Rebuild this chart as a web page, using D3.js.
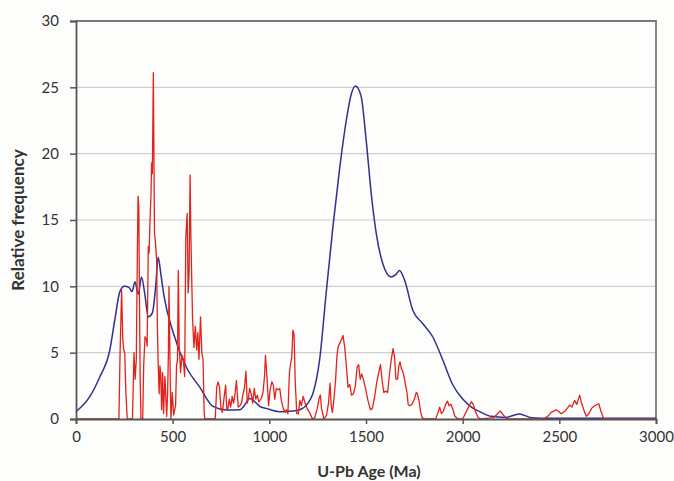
<!DOCTYPE html>
<html>
<head>
<meta charset="utf-8">
<script src="https://cdn.jsdelivr.net/npm/d3@7"></script>
<style>
  body { margin: 0; background: #fdfdfb; }
  text { font-family: Lato, "Open Sans", sans-serif; fill: #333; }
</style>
</head>
<body>
<div id="chart"></div>
<script>
// red curve (individual ages)
const redAge = [0, 222, 228, 236, 242, 247, 252, 258, 265, 292, 300, 306, 312, 317, 321, 325, 328, 332, 336, 345, 350, 357, 364, 368, 374, 378, 383, 388, 391, 395, 400, 403, 406, 410, 417, 421, 425, 430, 434, 438, 443, 448, 453, 460, 469, 474, 478, 481, 486, 491, 498, 505, 515, 520, 525, 529, 534, 541, 548, 555, 562, 568, 575, 580, 585, 590, 594, 598, 603, 610, 617, 624, 630, 636, 644, 651, 657, 663, 666, 720, 728, 735, 742, 750, 757, 765, 774, 780, 786, 793, 800, 808, 815, 822, 830, 839, 848, 856, 864, 871, 879, 886, 892, 898, 906, 914, 922, 930, 938, 945, 952, 960, 967, 975, 980, 988, 996, 1004, 1013, 1020, 1028, 1036, 1046, 1054, 1062, 1072, 1082, 1089, 1096, 1104, 1110, 1116, 1122, 1128, 1134, 1142, 1150, 1158, 1166, 1175, 1185, 1195, 1208, 1223, 1235, 1248, 1258, 1264, 1270, 1282, 1296, 1306, 1314, 1320, 1326, 1332, 1342, 1350, 1356, 1364, 1373, 1381, 1390, 1399, 1407, 1416, 1425, 1435, 1445, 1454, 1462, 1470, 1478, 1488, 1496, 1510, 1523, 1533, 1545, 1557, 1566, 1575, 1583, 1592, 1602, 1612, 1623, 1632, 1640, 1648, 1655, 1663, 1670, 1676, 1683, 1690, 1698, 1705, 1712, 1718, 1726, 1738, 1750, 1760, 1766, 1775, 1782, 1790, 1803, 1860, 1873, 1881, 1890, 1900, 1912, 1921, 1930, 1940, 1950, 1960, 1975, 2000, 2010, 2027, 2045, 2055, 2065, 2080, 2095, 2122, 2160, 2180, 2195, 2210, 2230, 2420, 2440, 2458, 2484, 2510, 2530, 2553, 2565, 2579, 2590, 2605, 2615, 2631, 2640, 2655, 2667, 2682, 2704, 2715, 2729, 3000];
const redFreq = [0, 0, 5, 9.7, 6, 5.2, 5, 2, 0, 0, 5, 3, 4.5, 12, 16.8, 16, 9.5, 3, 0, 0, 4, 6.2, 6, 5.5, 13, 12.5, 15, 17, 19.3, 18.5, 26.1, 20, 14, 13.5, 12, 7, 4.2, 1.9, 4, 3.5, 0.7, 3.5, 0.4, 3.2, 0.2, 2, 5, 10, 4.5, 0, 2, 0.3, 1, 4, 4.5, 11.2, 5.4, 3.5, 4.8, 4.5, 3.2, 13.7, 15.5, 9.5, 11, 18.4, 14, 11, 7.5, 5.4, 7, 5.2, 6.5, 4.5, 7.7, 5, 4.5, 0.5, 0, 0, 2.4, 2.8, 2.4, 0.8, 0.5, 1.5, 2.55, 0.7, 0.8, 1.5, 0.9, 1.7, 1.2, 1.8, 2.9, 0.9, 1.0, 1.2, 1.9, 2.3, 3.6, 1.2, 1.6, 2.3, 1.9, 1.2, 2.3, 1.5, 1.8, 1.3, 1.4, 1.6, 2.0, 3.2, 4.8, 3.1, 1.0, 2.2, 2.8, 2.6, 1.5, 2.3, 2.2, 2.3, 1.4, 0.8, 0.5, 0.7, 0.4, 3.5, 4.2, 4.6, 6.7, 6.4, 2.8, 0.4, 0.4, 1.4, 1.0, 1.7, 1.2, 0.8, 0.5, 0, 0.1, 0.8, 1.6, 1.8, 0.8, 0, 0.3, 1.2, 2.7, 1.0, 0.5, 1.2, 2.8, 4.8, 5.45, 5.7, 6.0, 6.3, 5.4, 3.9, 2.4, 2.6, 1.8, 1.9, 2.5, 3.9, 4.1, 3.0, 3.4, 2.9, 2.4, 1.4, 0.7, 0.8, 1.7, 2.9, 3.5, 4.1, 2.9, 2.0, 2.1, 2.0, 3.6, 4.6, 5.3, 4.6, 3.0, 3.0, 4.0, 4.3, 3.8, 3.6, 3.1, 2.5, 2.0, 1.1, 1.0, 1.1, 1.5, 2.0, 1.9, 1.3, 0.6, 0.1, 0, 0, 0.5, 0.9, 0.4, 0.6, 1.1, 1.35, 1.0, 1.1, 0.7, 0.2, 0, 0, 0.3, 0.8, 1.3, 1.1, 0.6, 0.1, 0, 0.05, 0.1, 0.4, 0.6, 0.3, 0, 0, 0.2, 0.5, 0.7, 0.4, 0.6, 1.05, 0.9, 1.4, 1.1, 1.8, 1.2, 0.5, 0.2, 0.45, 0.8, 1.0, 1.15, 0.6, 0, 0];

// blue curve (smooth probability density)
const blueAge = [0, 72, 124, 175, 201, 227, 250, 275, 290, 305, 322, 339, 355, 374, 395, 412, 425, 440, 455, 503, 571, 640, 709, 778, 847, 870, 898, 925, 950, 984, 1053, 1122, 1157, 1200, 1225, 1260, 1294, 1329, 1363, 1398, 1424, 1446, 1475, 1501, 1527, 1553, 1587, 1630, 1655, 1673, 1699, 1742, 1793, 1845, 1897, 1948, 2000, 2045, 2096, 2148, 2220, 2293, 2357, 2450, 3000];
const blueFreq = [0.55, 1.7, 3.2, 5.2, 7.5, 9.6, 10.0, 9.9, 9.6, 10.35, 9.4, 10.7, 9.5, 7.7, 8.0, 10, 12.2, 10.8, 9.3, 6.5, 3.9, 2.4, 0.95, 0.68, 0.7, 1.0, 1.55, 1.3, 0.95, 0.8, 0.55, 0.6, 0.7, 1.2, 1.9, 4.45, 9.5, 14.5, 18.8, 22.5, 24.5, 25.1, 24.3, 21.0, 17, 14, 11.7, 10.7, 10.9, 11.2, 10.5, 8.2, 7.2, 6.2, 4.45, 2.6, 1.5, 0.9, 0.5, 0.2, 0.12, 0.38, 0.1, 0.05, 0.05];

const xTicks = [0, 500, 1000, 1500, 2000, 2500, 3000];
const yTicks = [0, 5, 10, 15, 20, 25, 30];

const width = 674, height = 481;
const margin = { top: 21, right: 18, bottom: 62, left: 76 };
const w = width - margin.left - margin.right;
const h = height - margin.top - margin.bottom;

const svg = d3.select("#chart").append("svg")
  .attr("width", width)
  .attr("height", height);

const g = svg.append("g")
  .attr("transform", `translate(${margin.left},${margin.top})`);

const x = d3.scaleLinear().domain([0, 3000]).range([0, w]);
const y = d3.scaleLinear().domain([0, 30]).range([h, 0]);

// gridlines
g.selectAll(".grid")
  .data(yTicks.filter(d => d > 0 && d < 30))
  .join("line")
  .attr("x1", 0).attr("x2", w)
  .attr("y1", d => y(d)).attr("y2", d => y(d))
  .attr("stroke", "#cfcfcf")
  .attr("stroke-width", 1.2);

// plot border (top and right)
g.append("path")
  .attr("d", `M0,${y(30)}H${w}V${h}`)
  .attr("fill", "none")
  .attr("stroke", "#7a7a7a")
  .attr("stroke-width", 1.8);

// blue line
g.append("path")
  .datum(blueAge.map((a, i) => [a, blueFreq[i]]))
  .attr("fill", "none")
  .attr("stroke", "#2e3192")
  .attr("stroke-width", 1.5)
  .attr("d", d3.line().x(d => x(d[0])).y(d => y(d[1])).curve(d3.curveMonotoneX));

// red line
g.append("path")
  .datum(redAge.map((a, i) => [a, redFreq[i]]))
  .attr("fill", "none")
  .attr("stroke", "#e3221c")
  .attr("stroke-width", 1.3)
  .attr("stroke-linejoin", "round")
  .attr("d", d3.line().x(d => x(d[0])).y(d => y(d[1])));

// axes
const xAxis = g.append("g")
  .attr("transform", `translate(0,${h})`)
  .call(d3.axisBottom(x).tickValues(xTicks).tickFormat(d3.format("d")).tickSize(5).tickPadding(7));
const yAxis = g.append("g")
  .call(d3.axisLeft(y).tickValues(yTicks).tickFormat(d3.format("d")).tickSize(6).tickPadding(11));

[xAxis, yAxis].forEach(a => {
  a.select(".domain").attr("stroke", "#555").attr("stroke-width", 1.8);
  a.selectAll(".tick line").attr("stroke", "#555").attr("stroke-width", 1.5);
  a.selectAll(".tick text")
    .style("font-family", "Lato, 'Open Sans', sans-serif")
    .style("font-size", "15px")
    .attr("fill", "#333");
});

// axis titles
svg.append("text")
  .attr("x", margin.left + w / 2 + 3)
  .attr("y", 477)
  .attr("text-anchor", "middle")
  .style("font-size", "16px")
  .style("font-weight", "bold")
  .text("U-Pb Age (Ma)");

svg.append("text")
  .attr("transform", `translate(24,${margin.top + h / 2}) rotate(-90)`)
  .attr("text-anchor", "middle")
  .style("font-size", "17px")
  .style("font-weight", "bold")
  .text("Relative frequency");
</script>
</body>
</html>
